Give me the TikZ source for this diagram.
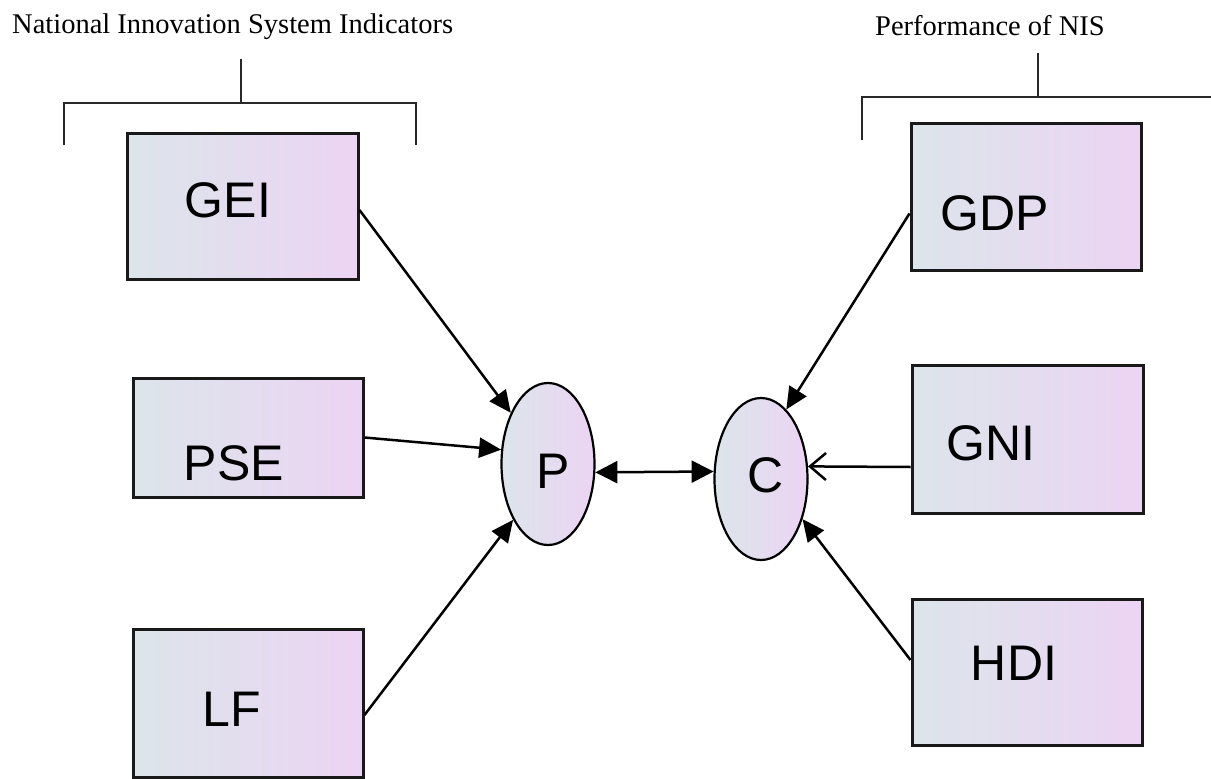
\documentclass[tikz,border=0pt]{standalone}
\usepackage{fontspec}
\setmainfont{Liberation Serif}
\newfontfamily\labelfont{Liberation Sans}
\usetikzlibrary{shapes.geometric,arrows.meta,shadows}
\definecolor{shadeL}{RGB}{220,229,234}
\definecolor{shadeR}{RGB}{236,212,244}
\definecolor{bracketgray}{RGB}{40,40,40}
\tikzset{
  indbox/.style={rectangle, draw=black!90, line width=3pt, inner sep=0pt,
    left color=shadeL, right color=shadeR,
    general shadow={shadow yshift=-2pt, fill=black!70}},
  hub/.style={ellipse, draw=black, line width=2.2pt, inner sep=0pt,
    minimum width=93pt, minimum height=162pt,
    left color=shadeL, right color=shadeR},
  lbl/.style={font=\labelfont\fontsize{50}{58}\selectfont, inner sep=0pt, anchor=base},
  heading/.style={font=\fontsize{28.5}{34}\selectfont, inner sep=0pt, anchor=base west},
  brk/.style={draw=bracketgray, line width=1.8pt},
  arr/.style={line width=2.5pt, -{Triangle[length=22pt,width=20pt]}},
  openarr/.style={line width=2.5pt, -{Straight Barb[length=16pt,width=27pt,line width=2.5pt]}},
  bothway/.style={line width=2.5pt, {Triangle[length=22pt,width=22pt]}-{Triangle[length=22pt,width=22pt]}}
}
\begin{document}
\begin{tikzpicture}[x=1pt,y=-1pt]
\useasboundingbox (0,0) rectangle (1211,779);

% headings
\node[heading] (nisind) at (12,34) {National Innovation System Indicators};
\node[heading] (nisperf) at (875,35) {Performance of NIS};

% brackets under the headings
\coordinate (lstem) at (241,59);
\coordinate (ljoin) at (241,103);
\draw[brk] (64,145) -- (64,103) -- (416,103) -- (416,145);
\draw[brk] (lstem) -- (ljoin);
\coordinate (rstem) at (1038,53);
\coordinate (rjoin) at (1038,97);
\draw[brk] (862,140) -- (862,97) -- (1211,97);
\draw[brk] (rstem) -- (rjoin);

% indicator boxes
\node[indbox, minimum width=231pt, minimum height=146pt] (gei) at (242.5,206) {};
\node[indbox, minimum width=230pt, minimum height=119pt] (pse) at (248,437.5) {};
\node[indbox, minimum width=230pt, minimum height=148pt] (lf)  at (248,703) {};
\node[indbox, minimum width=230pt, minimum height=147pt] (gdp) at (1026,196.5) {};
\node[indbox, minimum width=231pt, minimum height=148pt] (gni) at (1027.5,439) {};
\node[indbox, minimum width=230pt, minimum height=146pt] (hdi) at (1027,672) {};

\node[lbl] (geit) at (228,217) {GEI};
\node[lbl] (pset) at (234,480) {PSE};
\node[lbl] (lft)  at (232,726) {LF};
\node[lbl] (gdpt) at (995,230) {GDP};
\node[lbl] (gnit) at (991,460) {GNI};
\node[lbl] (hdit) at (1014,680) {HDI};

% central ellipses
\node[hub] (p) at (548,464) {};
\node[hub] (c) at (761,479) {};
\node[lbl] (pt) at (553,488) {P};
\node[lbl] (ct) at (766,492) {C};

% connectors
\draw[arr] ([yshift=-4pt]gei.east) -- (p.126);
\draw[arr] (pse.east) -- (p.163);
\draw[arr] ([yshift=-12pt]lf.east) -- (p.238);
\draw[bothway] (p.-10) -- (c.171);
\draw[arr] ([yshift=-17pt]gdp.west) -- (c.70);
\draw[openarr] ([yshift=-28pt]gni.west) -- (c.15);
\draw[arr] ([yshift=12pt]hdi.west) -- (c.-44);
\end{tikzpicture}
\end{document}
